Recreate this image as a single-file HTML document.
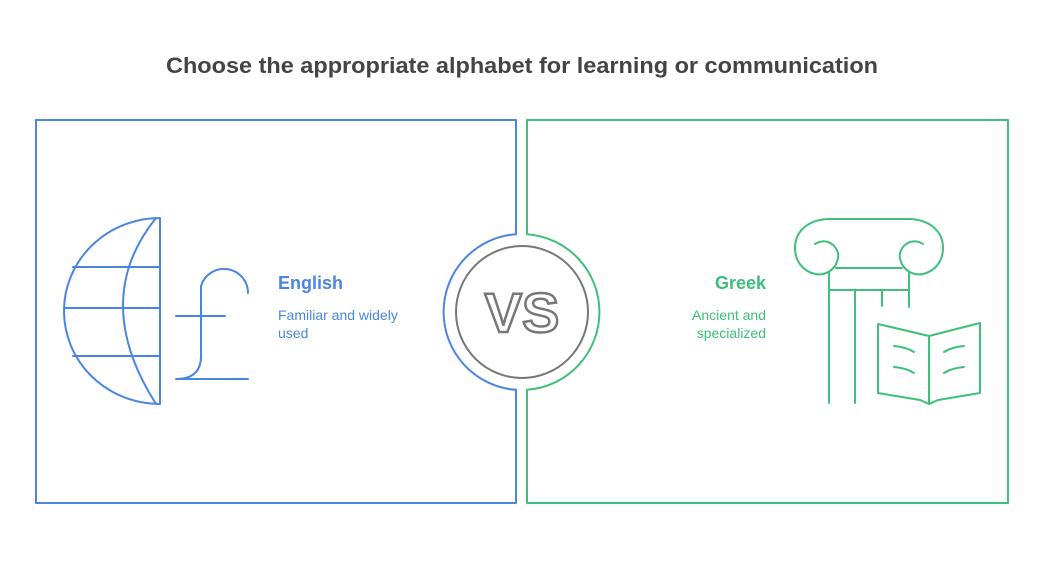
<!DOCTYPE html>
<html><head><meta charset="utf-8"><style>
html,body{margin:0;padding:0;background:#fff;width:1044px;height:564px;overflow:hidden}
svg{display:block}
text{font-family:"Liberation Sans",sans-serif}
</style></head><body>
<svg width="1044" height="564" viewBox="0 0 1044 564" xmlns="http://www.w3.org/2000/svg">
<text x="522" y="73" text-anchor="middle" font-size="22" font-weight="bold" fill="#444" textLength="712" lengthAdjust="spacingAndGlyphs">Choose the appropriate alphabet for learning or communication</text>
<g fill="none" stroke-width="2" stroke-linecap="round" stroke-linejoin="round">
<path d="M516 234.2 L516 120 L36 120 L36 503 L516 503 L516 389.8 A78 78 0 0 1 516 234.2 Z" stroke="#4A86E0"/>
<path d="M527 234.2 L527 120 L1008 120 L1008 503 L527 503 L527 389.8 A78 78 0 0 0 527 234.2 Z" stroke="#3CC07A"/>
<circle cx="522" cy="312" r="66" stroke="#777"/>
<g stroke="#4A86E0">
<path d="M160 218 A96 93 0 0 0 160 404 Z"/>
<path d="M156 218 Q90 300 156 404"/>
<line x1="73" y1="267" x2="160" y2="267"/>
<line x1="64" y1="308" x2="160" y2="308"/>
<line x1="73" y1="356" x2="160" y2="356"/>
<path d="M248 293 A24 24 0 0 0 201 286 L201 356 Q201 379 176 379 L248 379"/>
<line x1="176" y1="316" x2="225" y2="316"/>
</g>
<g stroke="#3CC07A">
<path d="M815 244 C828 236 840 248 838 258 C836 270 825 276 815 274 C802 271 795 260 795 248 C795 230 810 219 830 219 L908 219 C928 219 943 230 943 248 C943 260 936 271 923 274 C913 276 902 270 900 258 C898 248 910 236 923 244"/>
<line x1="836" y1="268" x2="902" y2="268"/>
<line x1="829" y1="290" x2="909" y2="290"/>
<line x1="829" y1="273" x2="829" y2="403"/>
<line x1="855" y1="290" x2="855" y2="403"/>
<line x1="882" y1="290" x2="882" y2="306"/>
<line x1="909" y1="273" x2="909" y2="307"/>
<path d="M878 324 L929 336 L980 323 L980 393 L938 400 L929 404 L920 400 L878 393 Z"/>
<line x1="929" y1="336" x2="929" y2="404"/>
<path d="M894 346 Q906 347 914 352 M894 367 Q906 368 914 373"/>
<path d="M964 346 Q952 347 944 352 M964 367 Q952 368 944 373"/>
</g>
</g>
<text x="522" y="332" text-anchor="middle" font-size="56" font-weight="bold" fill="#fff" stroke="#777" stroke-width="2.5">VS</text>
<text x="278" y="289" font-size="18" font-weight="bold" fill="#4A86E0">English</text>
<text x="278" y="320" font-size="14" fill="#4A86E0">Familiar and widely</text>
<text x="278" y="338" font-size="14" fill="#4A86E0">used</text>
<text x="766" y="289" text-anchor="end" font-size="18" font-weight="bold" fill="#3CC07A">Greek</text>
<text x="766" y="320" text-anchor="end" font-size="14" fill="#3CC07A">Ancient and</text>
<text x="766" y="338" text-anchor="end" font-size="14" fill="#3CC07A">specialized</text>
</svg>
</body></html>
